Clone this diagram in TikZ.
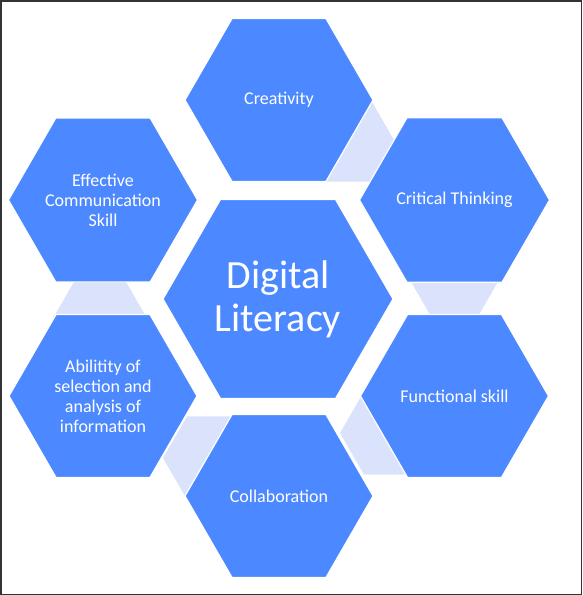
\documentclass[tikz,border=0pt]{standalone}
\usepackage{fontspec}
\setmainfont{Carlito}
\usepackage{tikz}
\usetikzlibrary{shapes.geometric}
\definecolor{hexblue}{RGB}{76,136,255}
\definecolor{linkblue}{RGB}{218,227,251}
\definecolor{framegray}{RGB}{51,51,51}

\begin{document}
\begin{tikzpicture}[x=1pt, y=-1pt,
        hexcell/.style={regular polygon, regular polygon sides=6, draw=white, line width=1.2pt, fill=hexblue, text=white, inner sep=0pt, minimum size=188pt, align=center, font=\fontsize{18}{20}\selectfont},
        hexcore/.style={hexcell, minimum size=230pt, font=\fontsize{40}{43}\selectfont},
        hexlink/.style={regular polygon, regular polygon sides=6, fill=linkblue, inner sep=0pt, minimum size=96pt}]
        \useasboundingbox (0,0) rectangle (582,595);

        % links behind the cells
        \node (link1) at (346,140) [hexlink] {};
        \node (link2) at (454.5,274) [hexlink] {};
        \node (link3) at (388,433) [hexlink] {};
        \node (link4) at (211,458) [hexlink] {};
        \node (link5) at (100,320) [hexlink] {};

        % centre
        \node (core) at (278,299) [hexcore] {Digital\\Literacy};

        % skills
        \node (creativity) at (279,100) [hexcell] {Creativity};
        \node (critical) at (454.5,200) [hexcell] {Critical Thinking};
        \node (functional) at (454.5,396) [hexcell] {Functional skill};
        \node (collab) at (279,496) [hexcell] {Collaboration};
        \node (ability) at (103,396) [hexcell] {Abilitity of\\selection and\\analysis of\\information};
        \node (effective) at (103,200) [hexcell] {Effective\\Communication\\Skill};

        \draw[framegray, line width=1.5pt] (0.75,0.75) rectangle (581.25,594.25);
    \end{tikzpicture}
\end{document}
